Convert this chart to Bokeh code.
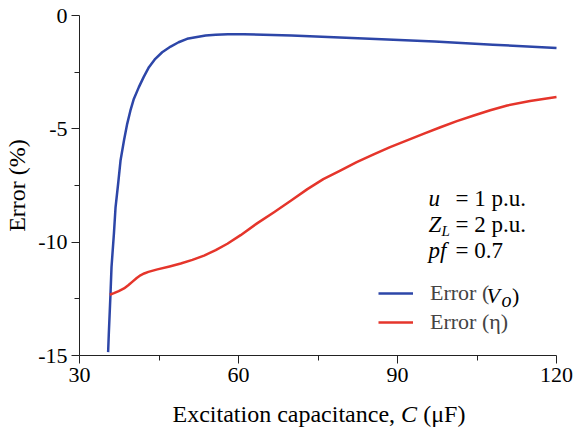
from bokeh.plotting import figure
from bokeh.models import Legend, LegendItem, Label, FixedTicker, Range1d, PrintfTickFormatter
from bokeh.embed import file_html
from bokeh.resources import INLINE

# ---- data ----
vo_x = [35.4, 35.53, 35.85, 36.04, 36.5, 36.8, 37.3, 37.74, 38.4, 39.0, 39.6, 40.25, 41.2,
        42.1, 43.1, 44.3, 45.6, 47.2, 48.7, 50.3, 51.9, 53.8, 55.7, 58.0,
        61.0, 70.0, 78.0, 87.0, 97.0, 108.0, 120.0]
vo_err = [-14.85, -14.04, -12.27, -11.1, -9.6, -8.46, -7.4, -6.4, -5.5, -4.78, -4.2, -3.68, -3.16,
          -2.72, -2.28, -1.91, -1.62, -1.37, -1.18, -1.03, -0.96, -0.88, -0.85, -0.83,
          -0.83, -0.88, -0.96, -1.05, -1.15, -1.29, -1.43]

eta_x = [35.7, 36.5, 37.4, 38.4, 39.2, 40.0, 40.8, 41.5, 42.2, 43.0, 44.7, 47.0, 49.1, 51.3,
         53.5, 55.7, 57.9, 60.4, 63.5, 66.7, 70.0, 73.0, 76.0, 79.2, 82.3, 85.5, 88.6, 91.8,
         95.0, 98.1, 101.2, 104.4, 107.5, 110.7, 115.0, 120.0]
eta_err = [-12.32, -12.25, -12.16, -12.04, -11.9, -11.74, -11.58, -11.46, -11.38, -11.31, -11.2,
           -11.07, -10.94, -10.78, -10.59, -10.35, -10.07, -9.69, -9.17, -8.68, -8.15, -7.66,
           -7.22, -6.84, -6.47, -6.13, -5.81, -5.51, -5.21, -4.93, -4.66, -4.41, -4.18, -3.97,
           -3.77, -3.6]

x_ticks = [30, 60, 90, 120]
x_minor = [45, 75, 105]
y_ticks = [0, -5, -10, -15]
y_minor = [-2.5, -7.5, -12.5]
x_lim = (30, 120)
y_lim = (-15, 0)

BLUE = "#2d46a8"
RED = "#e5352b"
FONT = "Liberation Serif"

# The frame covers the whole canvas; both axes are pinned to the data limits so that the
# mixed-style titles can be drawn as labels without being clipped.
p = figure(width=580, height=427, output_backend="svg", toolbar_location=None,
           x_range=Range1d(15.094, 124.528), y_range=Range1d(-18.176, 0.662),
           min_border_left=0, min_border_right=0, min_border_top=0, min_border_bottom=0)
p.grid.visible = False
p.outline_line_color = None

r1 = p.line(vo_x, vo_err, line_color=BLUE, line_width=2.5, line_join="round")
r2 = p.line(eta_x, eta_err, line_color=RED, line_width=2.5, line_join="round")

for ax in (p.xaxis[0], p.yaxis[0]):
    ax.axis_line_color = "#222222"
    ax.major_tick_line_color = "#222222"
    ax.minor_tick_line_color = "#222222"
    ax.major_tick_in = 0
    ax.major_tick_out = 8
    ax.minor_tick_in = 0
    ax.minor_tick_out = 5
    ax.major_label_text_font = FONT
    ax.major_label_text_font_size = "22px"
    ax.major_label_text_color = "black"
    ax.axis_label_text_font = FONT
    ax.axis_label_text_font_style = "normal"
    ax.axis_label_text_font_size = "24px"
    ax.axis_label_text_color = "black"
    ax.axis_label_standoff = 5
    ax.major_label_standoff = 4
    ax.formatter = PrintfTickFormatter(format="%d")

p.xaxis[0].ticker = FixedTicker(ticks=x_ticks, minor_ticks=x_minor)
p.xaxis[0].fixed_location = y_lim[0]
p.xaxis[0].bounds = x_lim
p.yaxis[0].ticker = FixedTicker(ticks=y_ticks, minor_ticks=y_minor)
p.yaxis[0].fixed_location = x_lim[0]
p.yaxis[0].bounds = y_lim
p.yaxis[0].axis_label = "Error (%)"

def lab(x, y, text, style="normal", size="23px"):
    p.add_layout(Label(x=x, y=y, text=text, text_font=FONT,
                       text_font_style=style, text_font_size=size, text_color="black",
                       text_align="left", text_baseline="alphabetic"))

# x axis title with italic C
lab(47.55, -17.60, "Excitation capacitance,", size="24px")
lab(90.68, -17.60, "C", "italic", size="24px")
lab(94.85, -17.60, "(μF)", size="24px")

# legend
leg = Legend(items=[LegendItem(label="Error (", renderers=[r1]),
                    LegendItem(label="Error (η)", renderers=[r2])],
             location=(378, 92), padding=0, margin=0, spacing=3,
             glyph_width=35, glyph_height=20, label_height=20, label_standoff=17,
             label_text_font=FONT, label_text_font_size="22px",
             border_line_color=None, background_fill_alpha=0)
p.add_layout(leg)
lab(106.8, -12.36, "V", "italic", "22px")
lab(109.6, -12.55, "o", "italic", "20px")
lab(111.6, -12.36, ")", "normal", "22px")

# annotations
lab(95.85, -8.07, "u", "italic")
lab(100.94, -8.07, "= 1 p.u.")
lab(95.85, -9.22, "Z", "italic")
lab(98.3, -9.49, "L", "italic", "15px")
lab(100.94, -9.22, "= 2 p.u.")
lab(95.85, -10.38, "pf", "italic")
lab(100.94, -10.38, "= 0.7")

open("out.html", "w").write(file_html(p, INLINE))
